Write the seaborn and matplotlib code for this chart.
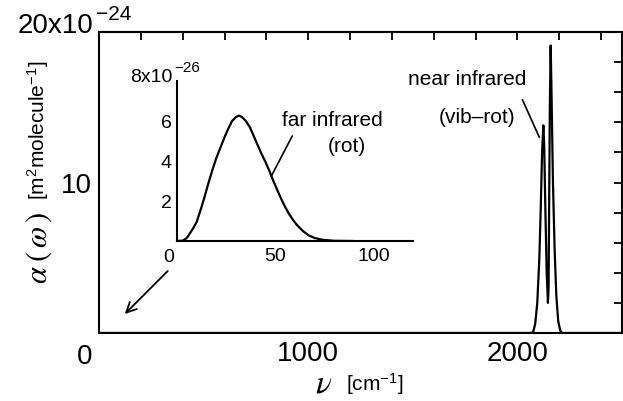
import matplotlib
matplotlib.use("Agg")
import matplotlib.pyplot as plt
import numpy as np
import pandas as pd
import seaborn as sns

# main spectrum: near infrared (vib-rot) band, units 1e-24 m^2/molecule
nu_main = [0, 2060, 2075, 2085, 2095, 2105, 2112, 2118, 2124, 2128, 2134, 2140,
           2146, 2149, 2152, 2155, 2159, 2163, 2170, 2178, 2186, 2195, 2205, 2215, 2500]
alpha_main = [0, 0, 0.05, 0.6, 2.0, 5.0, 8.5, 12.0, 13.8, 12.5, 8.0, 4.0,
              2.0, 3.0, 9.0, 15.0, 19.1, 16.0, 10.0, 5.5, 2.5, 0.8, 0.15, 0, 0]

# inset: far infrared (rot) band, units 1e-26 m^2/molecule
nu_far = [0, 3, 5, 6, 8, 10, 12, 14, 16, 18, 20, 22, 24, 26, 28, 30, 31.5, 33, 35,
          37, 39, 41, 43, 45, 47, 49, 51, 53, 55, 57, 59, 61, 64, 67, 70, 74, 80, 90]
alpha_far = [0, 0.02, 0.15, 0.3, 0.6, 0.95, 1.55, 2.2, 2.9, 3.55, 4.15, 4.65, 5.15,
             5.6, 6.0, 6.2, 6.27, 6.2, 6.0, 5.7, 5.25, 4.8, 4.35, 3.95, 3.5, 3.0,
             2.55, 2.1, 1.7, 1.35, 1.05, 0.8, 0.5, 0.28, 0.15, 0.06, 0.01, 0]

main_xticks = list(range(0, 2600, 200))
main_xlabels = {1000: "1000", 2000: "2000"}
main_yticks = list(range(0, 21, 2))
main_ylabels = {10: "10"}
inset_xticks = list(range(0, 130, 10))
inset_xlabels = {50: "50", 100: "100"}
inset_yticks = list(range(0, 9, 1))
inset_ylabels = {2: "2", 4: "4", 6: "6"}

sns.set_style("white")
plt.rcParams["font.family"] = ["Liberation Sans", "DejaVu Sans"]
plt.rcParams["mathtext.fontset"] = "custom"
plt.rcParams["mathtext.rm"] = "Liberation Sans"
plt.rcParams["mathtext.it"] = "Liberation Sans:italic"
plt.rcParams["mathtext.bf"] = "Liberation Sans:bold"
plt.rcParams["text.color"] = "black"
plt.rcParams["axes.labelcolor"] = "black"
plt.rcParams["xtick.color"] = "black"
plt.rcParams["ytick.color"] = "black"

fig = plt.figure(figsize=(6.23, 4.02), dpi=100)
ax = fig.add_axes([99 / 623, 68 / 402, 523 / 623, 301 / 402])

df_main = pd.DataFrame({"nu": nu_main, "alpha": alpha_main})
sns.lineplot(data=df_main, x="nu", y="alpha", ax=ax, color="k", lw=1.6)
ax.set_xlim(0, 2500)
ax.set_ylim(0, 20)
ax.set_xlabel("")
ax.set_ylabel("")
for s in ax.spines.values():
    s.set_color("k")
    s.set_linewidth(1.5)
ax.set_xticks(main_xticks)
ax.set_xticklabels([main_xlabels.get(t, "") for t in main_xticks])
ax.set_yticks(main_yticks)
ax.set_yticklabels([main_ylabels.get(t, "") for t in main_yticks])
ax.tick_params(direction="in", length=6, width=1.3, labelsize=20, pad=5,
               top=True, right=True, colors="k", labelcolor="k")

ax.annotate("0", xy=(0, 0), xycoords="axes fraction", xytext=(-10, -7),
            textcoords="offset points", ha="center", va="top", fontsize=20)
ax.annotate("20x10", xy=(0, 1), xycoords="axes fraction", xytext=(-4, 0),
            textcoords="offset points", ha="right", va="baseline", fontsize=20)
ax.annotate("\u221224", xy=(0, 1), xycoords="axes fraction", xytext=(-2, 9),
            textcoords="offset points", ha="left", va="baseline", fontsize=15)

ax.text(1762, 16.9, "near infrared", ha="center", va="center", fontsize=15)
ax.text(1805, 14.4, "(vib\u2013rot)", ha="center", va="center", fontsize=15)
ax.plot([2024, 2105], [15.5, 13.0], color="k", lw=1.2)
ax.annotate("", xy=(114, 1.13), xytext=(338, 4.25),
            arrowprops=dict(arrowstyle="->", color="k", lw=1.3, mutation_scale=18))

# inset
ins = fig.add_axes([177 / 623, 160 / 402, 236 / 623, 160 / 402])
ins.patch.set_alpha(0)
df_far = pd.DataFrame({"nu": nu_far, "alpha": alpha_far})
sns.lineplot(data=df_far, x="nu", y="alpha", ax=ins, color="k", lw=1.6)
ins.set_xlim(0, 120)
ins.set_ylim(0, 8)
ins.set_xlabel("")
ins.set_ylabel("")
ins.spines["top"].set_visible(False)
ins.spines["right"].set_visible(False)
for s in ["left", "bottom"]:
    ins.spines[s].set_color("k")
    ins.spines[s].set_linewidth(1.5)
ins.set_xticks(inset_xticks)
ins.set_xticklabels([inset_xlabels.get(t, "") for t in inset_xticks])
ins.set_yticks(inset_yticks)
ins.set_yticklabels([inset_ylabels.get(t, "") for t in inset_yticks])
ins.tick_params(direction="in", length=5, width=1.2, labelsize=14, pad=4,
                colors="k", labelcolor="k")

ins.annotate("0", xy=(0, 0), xycoords="axes fraction", xytext=(-6, -5),
             textcoords="offset points", ha="center", va="top", fontsize=14)
ins.annotate("8x10", xy=(0, 1), xycoords="axes fraction", xytext=(-3, 0),
             textcoords="offset points", ha="right", va="baseline", fontsize=14)
ins.annotate("\u221226", xy=(0, 1), xycoords="axes fraction", xytext=(-2, 7),
             textcoords="offset points", ha="left", va="baseline", fontsize=11)

ins.text(78.8, 6.05, "far infrared", ha="center", va="center", fontsize=15)
ins.text(86.4, 4.75, "(rot)", ha="center", va="center", fontsize=15)
ins.plot([58.6, 48], [5.25, 3.25], color="k", lw=1.2)

# axis labels
fig.text(39 / 623, 1 - 248 / 402, r"$\alpha\;(\,\omega\,)$", rotation=90,
         ha="center", va="center", fontsize=22, math_fontfamily="stix")
fig.text(38 / 623, 1 - 130 / 402, "[m$^2$molecule$^{-1}$]", rotation=90,
         ha="center", va="center", fontsize=15)
fig.text(324 / 623, 1 - 384 / 402, r"$\nu$", ha="center", va="center",
         fontsize=24, math_fontfamily="stix")
fig.text(375 / 623, 1 - 384 / 402, "[cm$^{-1}$]", ha="center", va="center",
         fontsize=15)

fig.savefig("out.png", dpi=100)
